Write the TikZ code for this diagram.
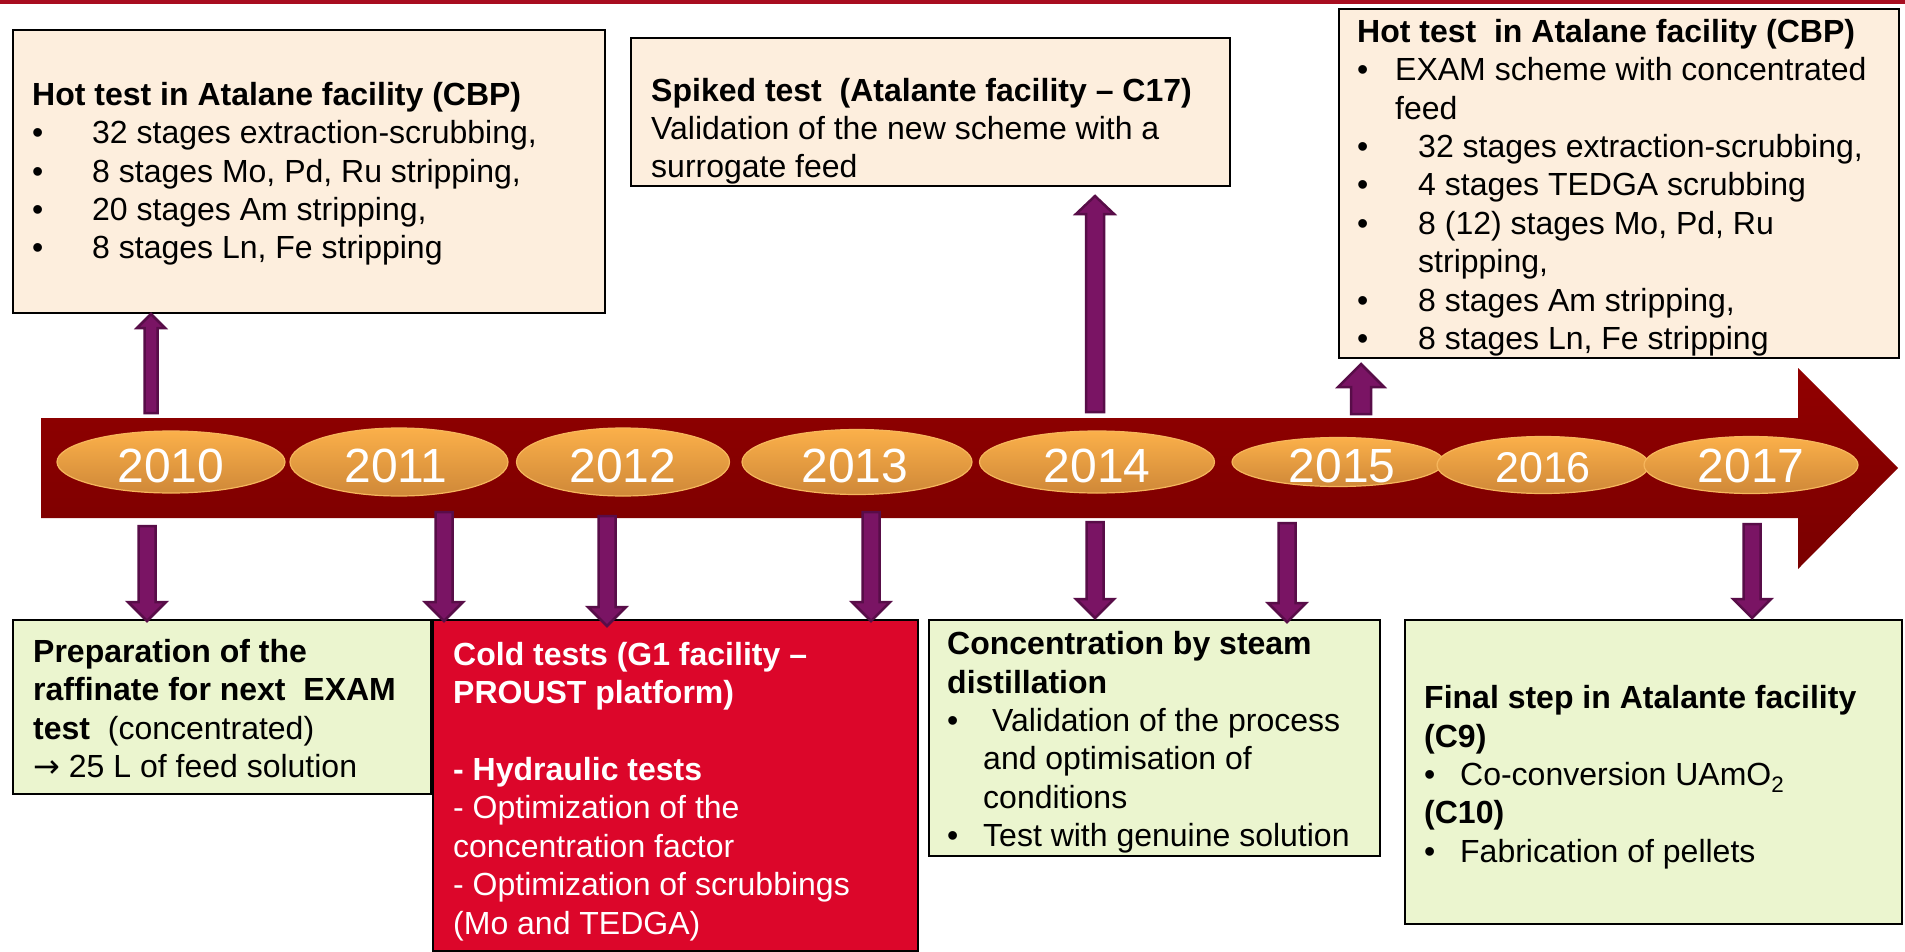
\documentclass[tikz,border=0pt]{standalone}
\usepackage{fontspec}
\setmainfont{Liberation Sans}
\newfontfamily\djv{DejaVu Sans}
\usetikzlibrary{calc,shapes.geometric}
\definecolor{cream}{HTML}{FDEEDD}
\definecolor{lgreen}{HTML}{EBF5CF}
\definecolor{boxred}{HTML}{DC062A}
\definecolor{tlTop}{HTML}{920000}
\definecolor{tlBot}{HTML}{7A0000}
\definecolor{elTop}{HTML}{FBB04A}
\definecolor{elBot}{HTML}{CF8838}
\definecolor{elLine}{HTML}{F6B65C}
\definecolor{arFill}{HTML}{7A1464}
\definecolor{arLine}{HTML}{580D48}
\definecolor{topbar}{HTML}{A80D20}
\newcommand\blockarr[5]{%
  \filldraw[barrow] let \p1=(#1), \p2=(#2), \n1={sign(\y2-(\y1))}, \n2={\y2-(\n1)*#5} in
  ({\x1-#3},\y1) -- ({\x1-#3},\n2) -- ({\x1-#4},\n2) -- (\x1,\y2)
  -- ({\x1+#4},\n2) -- ({\x1+#3},\n2) -- ({\x1+#3},\y1) -- cycle;}
\newcommand\bul[1]{\makebox[#1][l]{•}}
\tikzset{
  barrow/.style={fill=arFill, draw=arLine, line width=2.5pt, line join=miter},
  pbox/.style={draw=black, line width=2pt, inner sep=0pt, anchor=north west},
  cbox/.style={pbox, fill=cream},
  gbox/.style={pbox, fill=lgreen},
  rbox/.style={pbox, fill=boxred},
  txt/.style={anchor=north west, inner sep=0pt, align=left, font=\fontsize{32pt}{38.4pt}\selectfont},
  yel/.style={ellipse, inner sep=0pt, draw=elLine, line width=1.2pt, top color=elTop, bottom color=elBot},
  yr/.style={anchor=base, inner sep=0pt, text=white, font=\fontsize{48pt}{50pt}\selectfont}
}
\begin{document}
\begin{tikzpicture}[x=1pt,y=-1pt]
\useasboundingbox (0,0) rectangle (1905,952);
\fill[white] (0,0) rectangle (1905,952);
\fill[topbar] (0,0) rectangle (1905,4);

% boxes
\node[cbox, minimum width=592pt, minimum height=283pt] (box1) at (12,29) {};
\node[cbox, minimum width=599pt, minimum height=148pt] (box2) at (630,37) {};
\node[cbox, minimum width=560pt, minimum height=349pt] (box3) at (1338,8) {};
\node[gbox, minimum width=418pt, minimum height=174pt] (gbox1) at (12,619) {};
\node[rbox, minimum width=485pt, minimum height=331pt] (rbox) at (432,619) {};
\node[gbox, minimum width=451pt, minimum height=236pt] (gbox2) at (928,619) {};
\node[gbox, minimum width=497pt, minimum height=304pt] (gbox3) at (1404,619) {};

% timeline arrow
\shade[top color=tlTop, bottom color=tlBot]
  (41,418) -- (1798,418) -- (1798,368) -- (1898,468) -- (1798,569) -- (1798,518) -- (41,518) -- cycle;

% year ellipses
\node[yel, minimum width=228pt, minimum height=62pt] (e2010) at (171,462) {};
\node[yel, minimum width=218pt, minimum height=68pt] (e2011) at (399,462) {};
\node[yel, minimum width=213pt, minimum height=68pt] (e2012) at (623,462) {};
\node[yel, minimum width=230pt, minimum height=65pt] (e2013) at (857,462) {};
\node[yel, minimum width=235pt, minimum height=62pt] (e2014) at (1097,462) {};
\node[yel, minimum width=212pt, minimum height=49pt] (e2015) at (1338,462) {};
\node[yel, minimum width=212pt, minimum height=57pt] (e2016) at (1543,465) {};
\node[yel, minimum width=214pt, minimum height=57pt] (e2017) at (1751,465) {};
\node[yr] (t2010) at ($(e2010)+(0,20)$) {2010};
\node[yr] (t2011) at ($(e2011)+(-3,20)$) {2011};
\node[yr] (t2012) at ($(e2012)+(0,20)$) {2012};
\node[yr] (t2013) at ($(e2013)+(-2,20)$) {2013};
\node[yr] (t2014) at ($(e2014)+(0,20)$) {2014};
\node[yr] (t2015) at ($(e2015)+(4,20)$) {2015};
\node[yr, font=\fontsize{43pt}{45pt}\selectfont] (t2016) at ($(e2016)+(0,17)$) {2016};
\node[yr] (t2017) at ($(e2017)+(0,17)$) {2017};

% arrow end points
\coordinate (u10s) at (151,413); \coordinate (u10t) at (151,314);
\coordinate (u14s) at (1095,412); \coordinate (u14t) at (1095,196);
\coordinate (u15s) at (1361,414); \coordinate (u15t) at (1361,364);
\coordinate (d10s) at (147,526); \coordinate (d10t) at (147,621);
\coordinate (d11s) at (444,512); \coordinate (d11t) at (444,621);
\coordinate (d12s) at (607,516); \coordinate (d12t) at (607,626);
\coordinate (d13s) at (871,512); \coordinate (d13t) at (871,621);
\coordinate (d14s) at (1095,522); \coordinate (d14t) at (1095,618);
\coordinate (d15s) at (1287,523); \coordinate (d15t) at (1287,622);
\coordinate (d17s) at (1752,524); \coordinate (d17t) at (1752,618);

\blockarr{u10s}{u10t}{6.5}{14}{14}
\blockarr{u14s}{u14t}{9}{19}{18}
\blockarr{u15s}{u15t}{10}{23}{23}
\blockarr{d10s}{d10t}{8.5}{19}{19}
\blockarr{d11s}{d11t}{8.5}{19}{19}
\blockarr{d12s}{d12t}{8.5}{19}{19}
\blockarr{d13s}{d13t}{8.5}{19}{19}
\blockarr{d14s}{d14t}{8.5}{19}{19}
\blockarr{d15s}{d15t}{8.5}{19}{19}
\blockarr{d17s}{d17t}{8.5}{19}{19}

% texts
\node[txt] (box1txt) at (32,78.12) {\strut\textbf{Hot test in Atalane facility (CBP)}\\
\bul{60pt}32 stages extraction-scrubbing,\\
\bul{60pt}8 stages Mo, Pd, Ru stripping,\\
\bul{60pt}20 stages Am stripping,\\
\bul{60pt}8 stages Ln, Fe stripping};

\node[txt] (box2txt) at (651,74.12) {\strut\textbf{Spiked test~ (Atalante facility – C17)}\\
Validation of the new scheme with a\\
surrogate feed};

\node[txt] (box3txt) at (1357,15.12) {\strut\textbf{Hot test~ in Atalane facility (CBP)}\\
\bul{38pt}EXAM scheme with concentrated\\
\hspace*{38pt}feed\\
\bul{61pt}32 stages extraction-scrubbing,\\
\bul{61pt}4 stages TEDGA scrubbing\\
\bul{61pt}8 (12) stages Mo, Pd, Ru\\
\hspace*{61pt}stripping,\\
\bul{61pt}8 stages Am stripping,\\
\bul{61pt}8 stages Ln, Fe stripping};

\node[txt] (gbox1txt) at (33,635.12) {\strut\textbf{Preparation of the}\\
\textbf{raffinate for next~ EXAM}\\
\textbf{test}~ (concentrated)\\
{\djv →} 25 L of feed solution};

\node[txt, text=white] (rboxtxt) at (453,638.12) {\strut\textbf{Cold tests (G1 facility –}\\
\textbf{PROUST platform)}\\
~\\
\textbf{- Hydraulic tests}\\
- Optimization of the\\
concentration factor\\
- Optimization of scrubbings\\
(Mo and TEDGA)};

\node[txt] (gbox2txt) at (947,627.62) {\strut\textbf{Concentration by steam}\\
\textbf{distillation}\\
\bul{36pt} Validation of the process\\
\hspace*{36pt}and optimisation of\\
\hspace*{36pt}conditions\\
\bul{36pt}Test with genuine solution};

\node[txt] (gbox3txt) at (1424,681.62) {\strut\textbf{Final step in Atalante facility}\\
\textbf{(C9)}\\
\bul{36pt}Co-conversion UAmO\textsubscript{2}\\
\textbf{(C10)}\\
\bul{36pt}Fabrication of pellets};
\end{tikzpicture}
\end{document}
